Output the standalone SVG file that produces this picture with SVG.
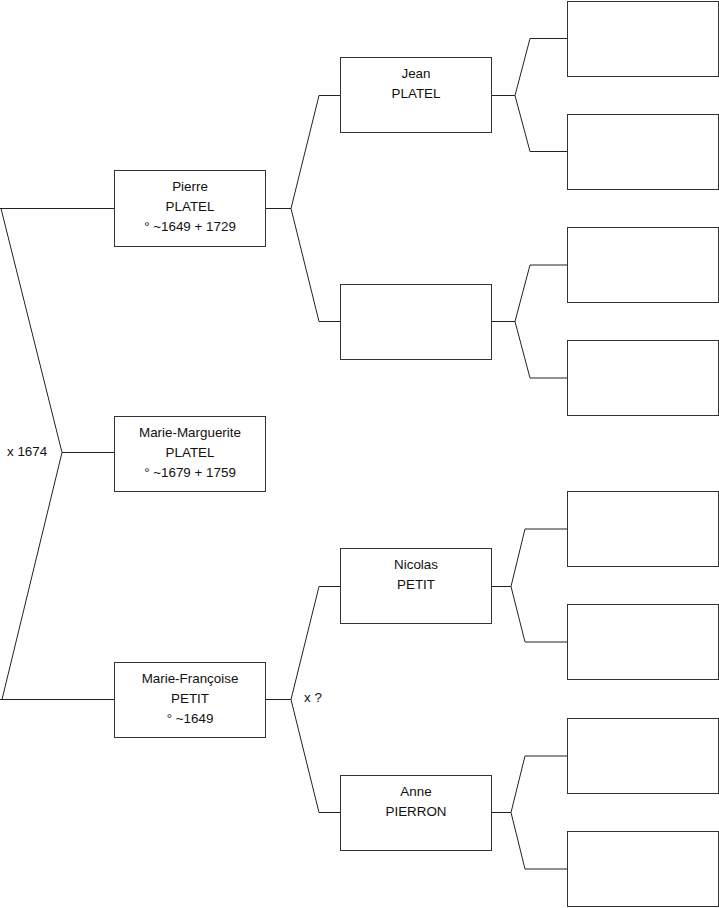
<svg xmlns="http://www.w3.org/2000/svg" width="719" height="908" viewBox="0 0 719 908">
<style>
.box{fill:#fff;stroke:#333;stroke-width:1}
.ln{fill:none;stroke:#222;stroke-width:1}
text{font-family:"Liberation Sans",Arial,sans-serif;font-size:13.4px;fill:#111}
.c{text-anchor:middle}
</style>
<rect width="719" height="908" fill="#fff"/>
<g id="connectors" class="ln">
<path d="M0,208.5 H114.5 M1,208.5 L62,452.5 L2,699.5 M62,452.5 H114.5 M0,699.5 H114.5"/>
<path d="M265.5,208.5 H291 L319,95.5 H340.5 M291,208.5 L319,321.5 H340.5"/>
<path d="M265.5,699.5 H291 L319,586.5 H340.5 M291,699.5 L319,812.5 H340.5"/>
<path d="M491.5,95.5 H515 L530,38.5 H567.5 M515,95.5 L530,151.5 H567.5"/>
<path d="M491.5,321.5 H515 L530,265 H567.5 M515,321.5 L530,378 H567.5"/>
<path d="M491.5,586.5 H511 L525,529 H567.5 M511,586.5 L525,642 H567.5"/>
<path d="M491.5,812.5 H511 L525,756 H567.5 M511,812.5 L525,869 H567.5"/>
</g>
<g id="label-x1674"><text x="7" y="456">x 1674</text></g>
<g id="label-xq"><text x="304" y="702">x ?</text></g>
<g id="pierre"><rect class="box" x="114.5" y="170.5" width="151" height="76"/>
<text class="c" x="190" y="191">Pierre</text><text class="c" x="190" y="211">PLATEL</text><text class="c" x="190" y="231">° ~1649 + 1729</text></g>
<g id="marie-marguerite"><rect class="box" x="114.5" y="416.5" width="151" height="75"/>
<text class="c" x="190" y="437">Marie-Marguerite</text><text class="c" x="190" y="457">PLATEL</text><text class="c" x="190" y="477">° ~1679 + 1759</text></g>
<g id="marie-francoise"><rect class="box" x="114.5" y="662.5" width="151" height="75"/>
<text class="c" x="190" y="683">Marie-Françoise</text><text class="c" x="190" y="703">PETIT</text><text class="c" x="190" y="723">° ~1649</text></g>
<g id="jean"><rect class="box" x="340.5" y="57.5" width="151" height="75"/>
<text class="c" x="416" y="78">Jean</text><text class="c" x="416" y="98">PLATEL</text></g>
<g id="unknown1"><rect class="box" x="340.5" y="284.5" width="151" height="75"/></g>
<g id="nicolas"><rect class="box" x="340.5" y="548.5" width="151" height="75"/>
<text class="c" x="416" y="569">Nicolas</text><text class="c" x="416" y="589">PETIT</text></g>
<g id="anne"><rect class="box" x="340.5" y="775.5" width="151" height="75"/>
<text class="c" x="416" y="796">Anne</text><text class="c" x="416" y="816">PIERRON</text></g>
<g id="gp1"><rect class="box" x="567.5" y="1.5" width="151" height="75"/></g>
<g id="gp2"><rect class="box" x="567.5" y="114.5" width="151" height="75"/></g>
<g id="gp3"><rect class="box" x="567.5" y="227.5" width="151" height="75"/></g>
<g id="gp4"><rect class="box" x="567.5" y="340.5" width="151" height="75"/></g>
<g id="gp5"><rect class="box" x="567.5" y="491.5" width="151" height="75"/></g>
<g id="gp6"><rect class="box" x="567.5" y="604.5" width="151" height="75"/></g>
<g id="gp7"><rect class="box" x="567.5" y="718.5" width="151" height="75"/></g>
<g id="gp8"><rect class="box" x="567.5" y="831.5" width="151" height="75"/></g>
</svg>
